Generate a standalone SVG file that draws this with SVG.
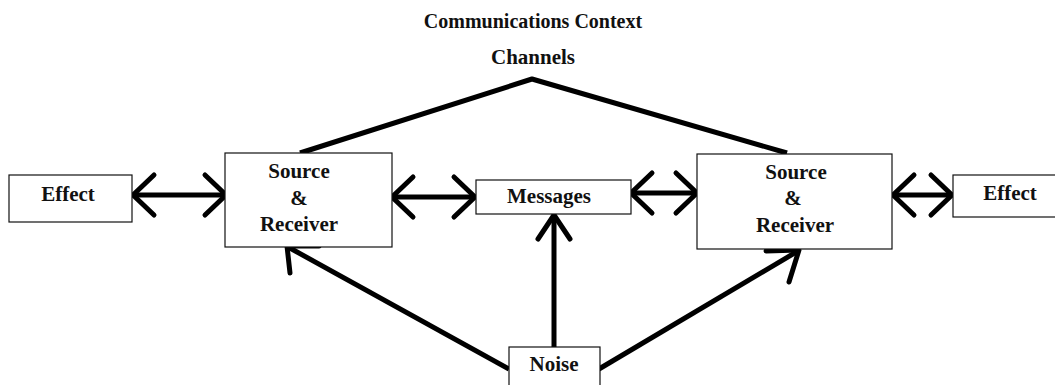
<svg xmlns="http://www.w3.org/2000/svg" width="1055" height="385" viewBox="0 0 1055 385">
  <style>
    .box { fill: #fff; stroke: #111; stroke-width: 1.2; }
    .lbl { font-family: 'Liberation Serif', 'DejaVu Serif', serif; font-weight: bold; font-size: 21px; fill: #111; text-anchor: middle; }
    .title { font-size: 20px; }
    .conn { fill: none; stroke: #000; stroke-width: 5; stroke-linejoin: round; }
    .head { fill: none; stroke: #000; stroke-width: 5; stroke-linecap: round; stroke-linejoin: round; }
  </style>
  <defs>
    <!-- open V arrowhead used on the two-way links -->
    <marker id="vhead" markerUnits="userSpaceOnUse" viewBox="-30 -30 40 60" refX="0" refY="0" markerWidth="40" markerHeight="60" orient="auto-start-reverse" overflow="visible">
      <path d="M-21,-20 L0,0 L-21,20" fill="none" stroke="#000" stroke-width="5" stroke-linecap="round" stroke-linejoin="round"/>
    </marker>
    <!-- narrower head on the upward noise link -->
    <marker id="vhead-narrow" markerUnits="userSpaceOnUse" viewBox="-30 -30 40 60" refX="0" refY="0" markerWidth="40" markerHeight="60" orient="auto" overflow="visible">
      <path d="M-24,-16 L0,0 L-24,16" fill="none" stroke="#000" stroke-width="5" stroke-linecap="round" stroke-linejoin="round"/>
    </marker>
  </defs>

  <rect width="1055" height="385" fill="#fff"/>

  <!-- headings -->
  <text class="lbl title" x="533" y="28" font-family="Liberation Serif, serif">Communications Context</text>
  <text class="lbl" x="533" y="64" font-family="Liberation Serif, serif">Channels</text>

  <g id="connectors">
    <!-- channels link between the two source/receiver boxes -->
    <polyline class="conn" points="300,153 532,79 787,153"/>
    <!-- two-way links along the middle row -->
    <line class="conn" x1="133" y1="195" x2="226" y2="195" marker-start="url(#vhead)" marker-end="url(#vhead)"/>
    <line class="conn" x1="392" y1="197" x2="475" y2="197" marker-start="url(#vhead)" marker-end="url(#vhead)"/>
    <line class="conn" x1="631" y1="193" x2="697" y2="193" marker-start="url(#vhead)" marker-end="url(#vhead)"/>
    <line class="conn" x1="893" y1="195" x2="952" y2="195" marker-start="url(#vhead)" marker-end="url(#vhead)"/>
    <!-- noise links -->
    <line class="conn" x1="554" y1="347" x2="554" y2="215" marker-end="url(#vhead-narrow)"/>
    <line class="conn" x1="509" y1="369" x2="288" y2="247"/>
    <path class="head" d="M319,246 L287,246 L290,273"/>
    <line class="conn" x1="599" y1="369" x2="798" y2="251"/>
    <path class="head" d="M766,251 L799,250 L789,282"/>
  </g>

  <g id="effect-left">
    <rect class="box" x="9" y="175" width="123" height="47"/>
    <text class="lbl" x="68" y="201">Effect</text>
  </g>

  <g id="source-receiver-left">
    <rect class="box" x="225" y="153" width="167" height="94"/>
    <text class="lbl" x="299" y="178">Source</text>
    <text class="lbl" x="299" y="205">&amp;</text>
    <text class="lbl" x="299" y="231">Receiver</text>
  </g>

  <g id="messages">
    <rect class="box" x="476" y="180" width="155" height="34"/>
    <text class="lbl" x="549" y="203">Messages</text>
  </g>

  <g id="source-receiver-right">
    <rect class="box" x="697" y="154" width="195" height="95"/>
    <text class="lbl" x="796" y="179">Source</text>
    <text class="lbl" x="793" y="205">&amp;</text>
    <text class="lbl" x="795" y="232">Receiver</text>
  </g>

  <g id="effect-right">
    <rect class="box" x="953" y="175" width="110" height="42"/>
    <text class="lbl" x="1010" y="200">Effect</text>
  </g>

  <g id="noise">
    <rect class="box" x="509" y="347" width="91" height="50"/>
    <text class="lbl" x="554" y="371">Noise</text>
  </g>
</svg>
